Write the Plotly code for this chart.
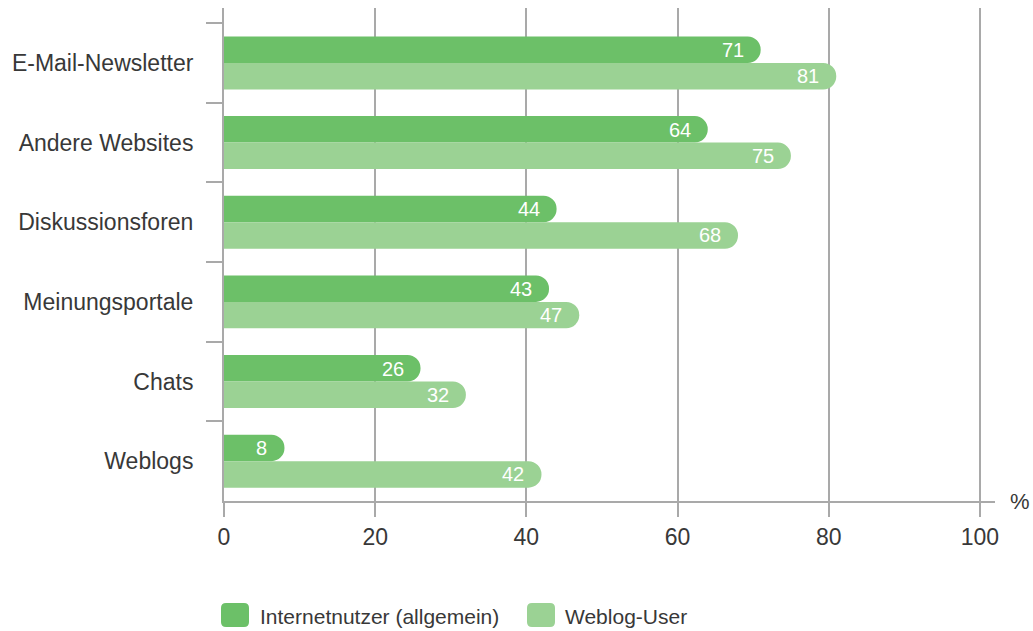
import plotly.graph_objects as go

# Survey categories (top to bottom) and shares in percent
categories = [
    "E-Mail-Newsletter",
    "Andere Websites",
    "Diskussionsforen",
    "Meinungsportale",
    "Chats",
    "Weblogs",
]
internetnutzer = [71, 64, 44, 43, 26, 8]
weblog_user = [81, 75, 68, 47, 32, 42]

series_names = ["Internetnutzer (allgemein)", "Weblog-User"]
x_ticks = [0, 20, 40, 60, 80, 100]

DARK = "#6cc068"
LIGHT = "#9bd294"
AXIS = "#a9a9a9"
TEXT = "#383838"
FONT = "Liberation Sans"

W, H = 1033, 631
L, R, T, B = 224, 38, 8, 130
PW, PH = W - L - R, H - T - B

fig = go.Figure()
for name, vals, col in [(series_names[0], internetnutzer, DARK),
                        (series_names[1], weblog_user, LIGHT)]:
    fig.add_trace(go.Bar(
        x=vals, y=categories, orientation="h", name=name,
        marker=dict(color=col, line=dict(width=0), cornerradius=13),
        showlegend=False, hoverinfo="x+y",
    ))

# value labels inside the bar ends
annotations = []
for vals, shift in [(internetnutzer, 13), (weblog_user, -13)]:
    for cat, v in zip(categories, vals):
        annotations.append(dict(
            x=v, y=cat, xref="x", yref="y", text=str(v), showarrow=False,
            xanchor="right", yanchor="middle", xshift=-15, yshift=shift,
            font=dict(family=FONT, size=20, color="white"),
        ))

# unit label at the end of the value axis
annotations.append(dict(
    x=(1020 - L) / PW, y=0, xref="paper", yref="paper", text="%",
    showarrow=False, xanchor="center", yanchor="middle",
    font=dict(family=FONT, size=22, color=TEXT),
))


def px_x(px):
    return (px - L) / PW


def px_y(py):
    return (H - B - py) / PH


def rounded_rect(x0, y0, x1, y1, r):
    # path in paper units built from pixel corners, y0 is the top edge
    rx, ry = r / PW, r / PH
    a, b, c, d = px_x(x0), px_y(y1), px_x(x1), px_y(y0)
    return (f"M{a + rx},{b} L{c - rx},{b} Q{c},{b} {c},{b + ry} "
            f"L{c},{d - ry} Q{c},{d} {c - rx},{d} L{a + rx},{d} "
            f"Q{a},{d} {a},{d - ry} L{a},{b + ry} Q{a},{b} {a + rx},{b} Z")


shapes = []
legend_items = [(series_names[0], DARK, 221, 258), (series_names[1], LIGHT, 527, 563)]
for name, col, sx, tx in legend_items:
    shapes.append(dict(
        type="path", xref="paper", yref="paper",
        path=rounded_rect(sx, 603, sx + 28, 627, 5),
        fillcolor=col, line=dict(width=0),
    ))
    annotations.append(dict(
        x=px_x(tx), y=px_y(616), xref="paper", yref="paper", text=name,
        showarrow=False, xanchor="left", yanchor="middle",
        font=dict(family=FONT, size=21, color=TEXT),
    ))

fig.update_layout(
    width=W, height=H,
    margin=dict(l=L, r=R, t=T, b=B, pad=0),
    paper_bgcolor="white", plot_bgcolor="white",
    barmode="group", bargap=0.335, bargroupgap=0,
    showlegend=False,
    font=dict(family=FONT, size=22, color=TEXT),
    annotations=annotations, shapes=shapes,
    xaxis=dict(
        range=[0, 102], tickvals=x_ticks, ticktext=[str(t) for t in x_ticks],
        showgrid=True, gridcolor=AXIS, gridwidth=2, zeroline=False,
        showline=True, linecolor=AXIS, linewidth=2,
        ticks="outside", ticklen=14, tickwidth=2, tickcolor=AXIS,
        tickfont=dict(family=FONT, size=23, color=TEXT),
    ),
    yaxis=dict(
        type="category", categoryorder="array", categoryarray=categories,
        range=[5.5, -0.69], showgrid=False, zeroline=False,
        showline=True, linecolor=AXIS, linewidth=2,
        ticks="outside", tickson="boundaries", ticklen=16, tickwidth=2,
        tickcolor=AXIS, ticklabelstandoff=24,
        tickfont=dict(family=FONT, size=23, color=TEXT),
    ),
)

fig.write_html("out.html")
